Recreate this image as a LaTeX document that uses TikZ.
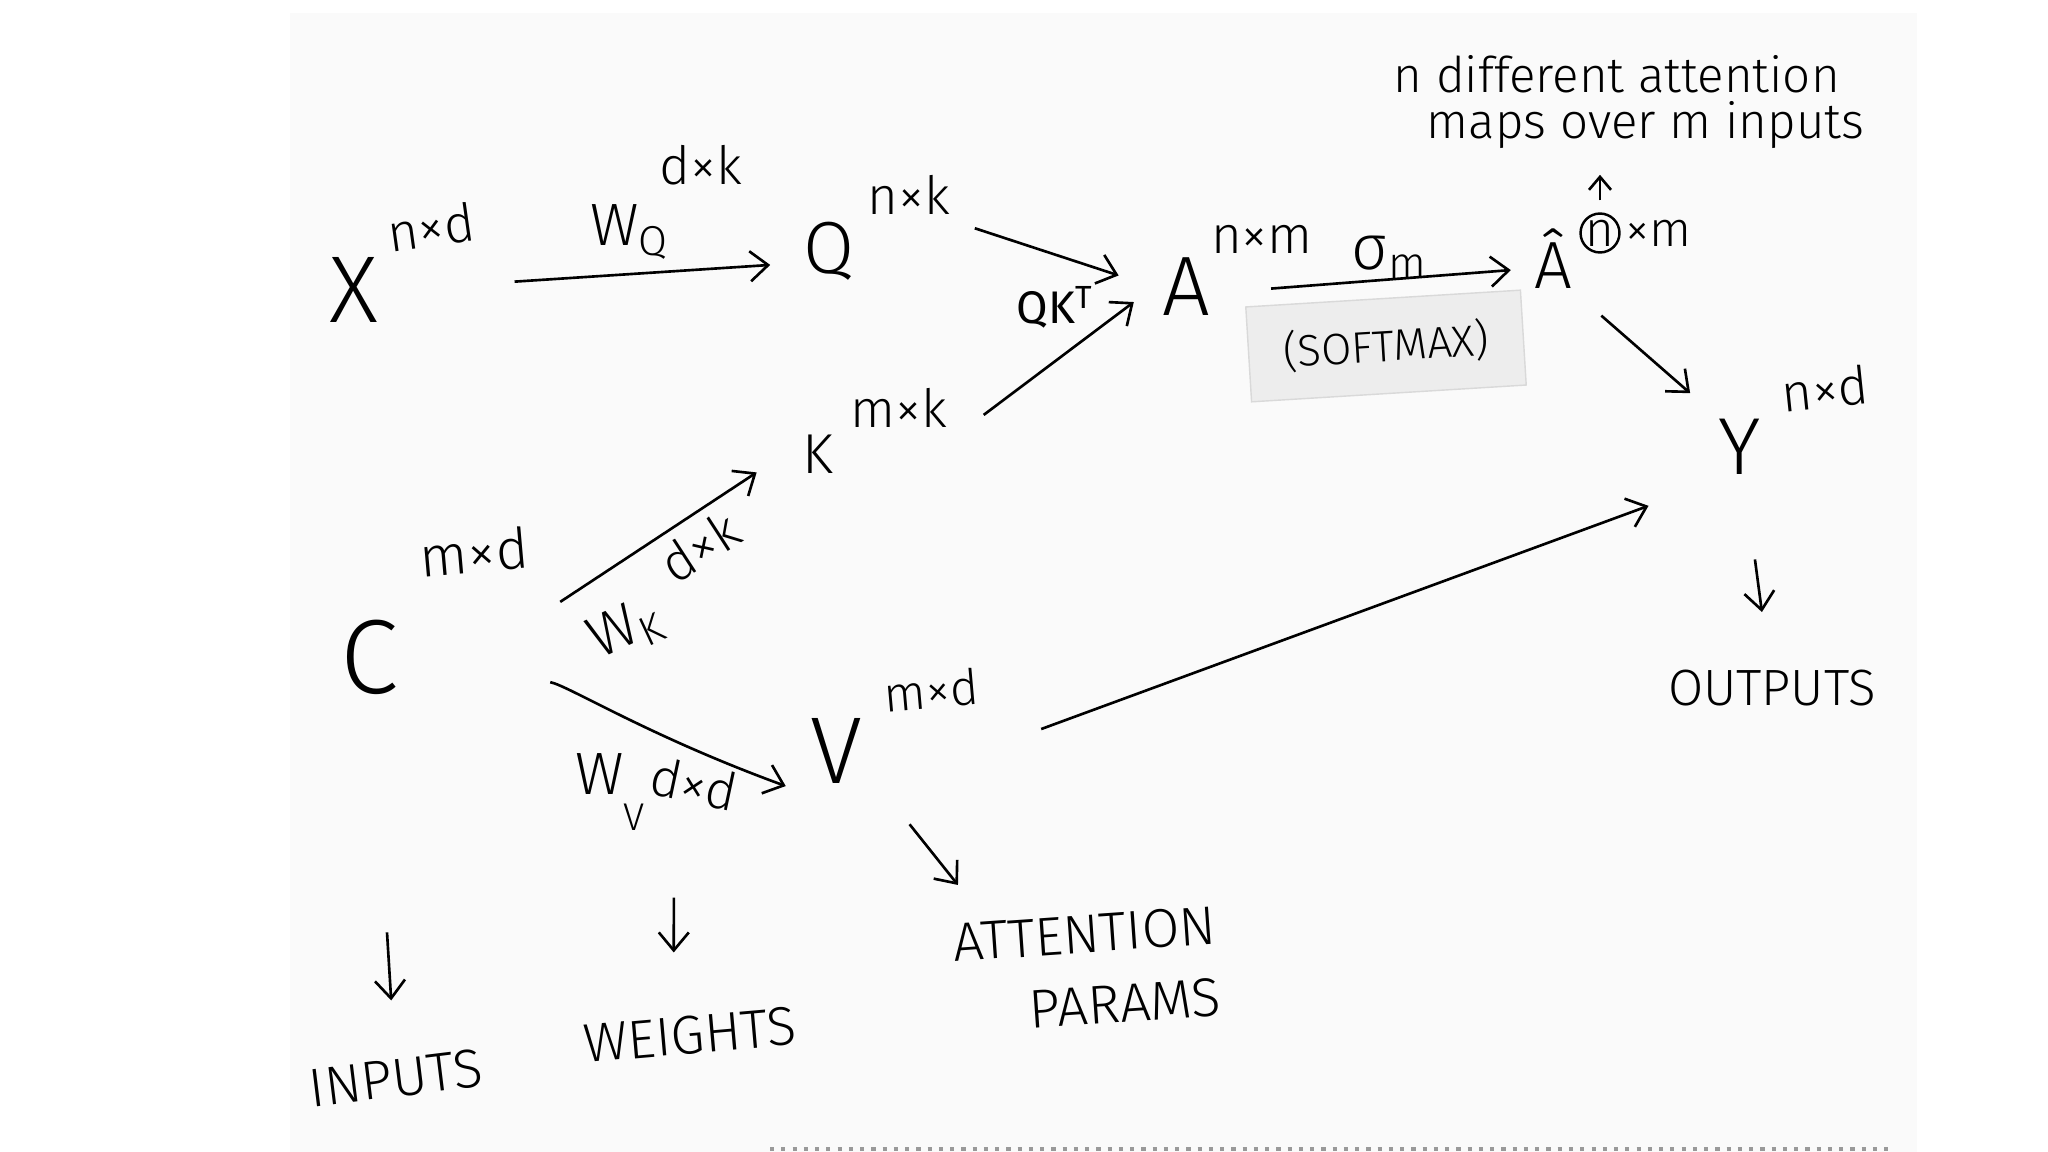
\documentclass[tikz,border=0pt]{standalone}
\usepackage{fontspec}
\setmainfont{Fira Sans}[UprightFont={* Light}, BoldFont={*}]
\usetikzlibrary{arrows.meta,positioning}

\begin{document}
\begin{tikzpicture}[x=0.01cm, y=-0.01cm, line width=0.75pt,
  mat/.style={font=\fontsize{#1}{#1}\selectfont, inner sep=2pt},
  dim/.style={font=\fontsize{15}{15}\selectfont, inner sep=2pt},
  wgt/.style={font=\fontsize{17}{17}\selectfont, inner sep=2pt},
  lbl/.style={font=\fontsize{15.5}{20.5}\selectfont, inner sep=2pt},
  remark/.style={font=\fontsize{14}{13}\selectfont, align=left, inner sep=2pt},
  arr/.style={-{Straight Barb[length=1.8mm,width=3mm]}, line width=0.75pt}]
\useasboundingbox (0,0) rectangle (2048,1152);
% the sheet of paper
\fill[black!2] (290,13) rectangle (1917,1152);
\draw[black!40, dotted, line width=1.2pt] (770,1149) -- (1894,1149);

% query side
\node[mat=27] (X) at (354,290) {X};
\node[dim, rotate=8] (Xdim) at (431,227) {n×d};
\node[wgt] (WQ) at (630,232) {W\textsubscript{Q}};
\node[dim] (WQdim) at (701,165) {d×k};
\node[mat=21] (Q) at (829,251) {Q};
\node[dim] (Qdim) at (909,195) {n×k};

% context side
\node[mat=30] (C) at (370,657) {C};
\node[dim, font=\fontsize{16}{16}\selectfont, rotate=5] (Cdim) at (474,552) {m×d};
\node[wgt, rotate=25, inner sep=0pt] (WK) at (626,630) {W\textsubscript{K}};
\node[dim, rotate=33, inner sep=0pt] (WKdim) at (700,547) {d×k};
\node[mat=16] (K) at (818,454) {K};
\node[dim] (Kdim) at (899,408) {m×k};
\node[wgt] (WV) at (610,792) {W\raisebox{-0.6em}{\fontsize{11}{11}\selectfont V}};
\node[dim, rotate=-12] (WVdim) at (694,784) {d×d};
\node[mat=27] (V) at (836,751) {V};
\node[dim, font=\fontsize{14}{14}\selectfont, rotate=5] (Vdim) at (931,690) {m×d};

% attention
\node[font=\fontsize{13}{13}\selectfont\bfseries] (QKT) at (1055,307) {QK\textsuperscript{T}};
\node[mat=24] (A) at (1186,287) {A};
\node[dim] (Adim) at (1262,239) {n×m};
\node[font=\fontsize{18}{18}\selectfont] (sig) at (1390,257) {σ\textsubscript{m}};
\node[fill=black!7, draw=black!15, line width=0.4pt, minimum width=2.75cm, minimum height=0.95cm,
  rotate=3.5, font=\fontsize{12.5}{12.5}\selectfont] (softmax) at (1386,346) {(SOFTMAX)};
\node[mat=19] (Ahat) at (1553,259) {Â};
\node[circle, draw, inner sep=0pt, minimum size=0.35cm, line width=0.7pt, font=\fontsize{14}{14}\selectfont] (ncirc) at (1600,233) {n};
\node[dim, right=0pt of ncirc, inner sep=1pt, font=\fontsize{14}{14}\selectfont] (Ahatdim) {×m};
\node[remark] (note) at (1629,102) {n different attention\\\hspace*{0.33cm}maps over m inputs};
\node[mat=23] (Y) at (1740,447) {Y};
\node[dim, rotate=6] (Ydim) at (1825,389) {n×d};

% what the letters stand for
\node[lbl, rotate=7] (inputs) at (396,1078) {INPUTS};
\node[lbl, rotate=5] (weights) at (690,1035) {WEIGHTS};
\node[lbl, align=right, rotate=4] (attn) at (1087,970) {ATTENTION\\PARAMS};
\node[lbl, font=\fontsize{14.5}{14.5}\selectfont] (outputs) at (1772,688) {OUTPUTS};

\draw[arr, shorten <=1.28cm, shorten >=0.25cm] (X.east) -- (Q.200);
\draw[arr, shorten <=0.17cm, shorten >=0.37cm] (Qdim.south east) -- (A.west);
\draw[arr, shorten <=0.35cm, shorten >=0.25cm] (Kdim.south east) -- (A.west);
\draw[arr, shorten <=1.83cm, shorten >=0.45cm] (C.south east) -- (K.165);
\draw[arr, shorten <=1.45cm, shorten >=0.17cm] (C.east) to[out=-10, in=160] (V.south west);
\draw[arr, shorten <=0.53cm, shorten >=0.15cm] (A.350) -- (Ahat.200);
\draw[arr, shorten <=0.28cm, shorten >=0.27cm] (Ahat.south east) -- (Y.north west);
\draw[arr, shorten <=1.82cm, shorten >=0.66cm] (V.south east) -- (Y.south west);
\draw[-{Straight Barb[length=1.3mm,width=2.2mm]}, shorten <=0.12cm, shorten >=0.18cm] (ncirc.north) -- (ncirc.north |- note.south);
\draw[arr, shorten <=2.3cm, shorten >=0.5cm] (C) -- (inputs);
\draw[arr, shorten <=0.86cm, shorten >=0.55cm] ([xshift=-0.14cm]WVdim.south) -- ([xshift=-0.14cm]weights.north);
\draw[arr, shorten <=0.63cm, shorten >=0.4cm] (V.-35) -- ([xshift=0.4cm]attn.north west);
\draw[arr, shorten <=0.77cm, shorten >=0.5cm] (Y) -- (outputs);
\end{tikzpicture}
\end{document}
